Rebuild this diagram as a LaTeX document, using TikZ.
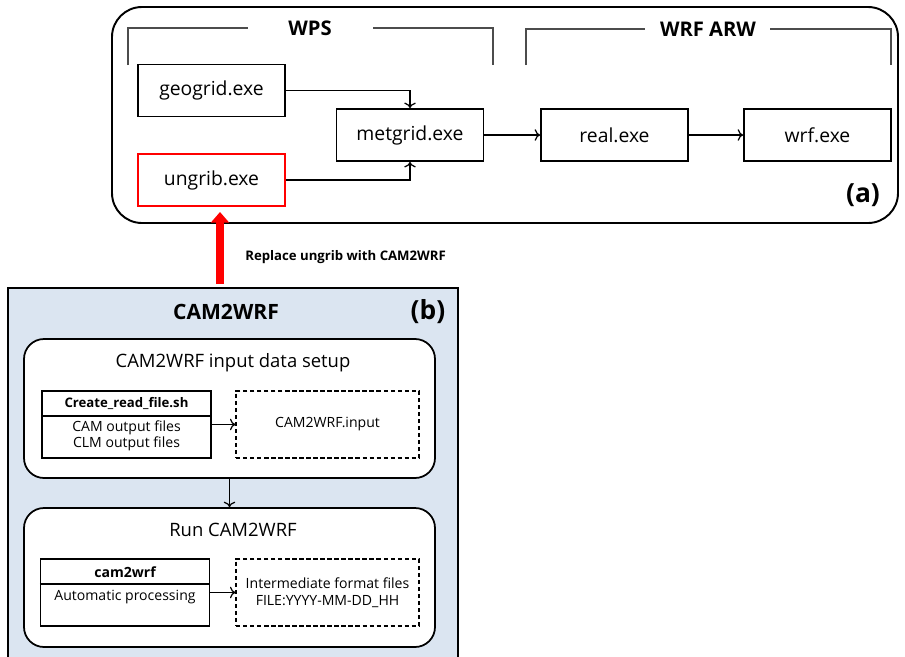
\documentclass[tikz,border=0pt]{standalone}
\usepackage{fontspec}
\setmainfont{Open Sans}
\usetikzlibrary{arrows.meta}
\definecolor{camblue}{RGB}{219,229,241}
\def\pxu{0.02cm}
\tikzset{
  exebox/.style={draw, line width=1pt, minimum width=147*\pxu, minimum height=52*\pxu, font=\fontsize{11}{13}\selectfont},
  stagebox/.style={draw, fill=white, line width=1pt, rounded corners=0.4cm, minimum width=411*\pxu, minimum height=139*\pxu},
  procbox/.style={draw, line width=0.6pt, fill=white, minimum width=169*\pxu, minimum height=67*\pxu},
  inbox/.style={draw, line width=0.6pt, dash pattern=on 2.5pt off 1.5pt, minimum width=183*\pxu, minimum height=67*\pxu, font=\fontsize{8}{10}\selectfont},
  bracket/.style={draw=black!70, line width=0.6pt},
  flow/.style={->, line width=0.7pt},
  small text/.style={font=\fontsize{8}{9}\selectfont}
}
\begin{document}
\begin{tikzpicture}[x=0.02cm,y=-0.02cm]
    \clip (0,0) rectangle (905,656);

    % Teil (a): WPS und WRF ARW
    \draw[line width=1.1pt, rounded corners=0.6cm] (112,7) rectangle (898,223);
    \node[font=\bfseries\fontsize{11.5}{14}\selectfont] (wps) at (310,28) {WPS};
    \draw[bracket] (128,65) -- (128,28) -- (248,28);
    \draw[bracket] (373,28) -- (493,28) -- (493,65);
    \node[font=\bfseries\fontsize{11.5}{14}\selectfont] (wrfarw) at (708,29) {WRF ARW};
    \draw[bracket] (526,65) -- (526,29) -- (645,29);
    \draw[bracket] (770,29) -- (891,29) -- (891,65);

    \node[exebox] (geogrid) at (211.5,90.5) {geogrid.exe};
    \node[exebox, draw=red] (ungrib) at (211.5,180) {ungrib.exe};
    \node[exebox] (metgrid) at (410,135) {metgrid.exe};
    \node[exebox] (real) at (614.5,135) {real.exe};
    \node[exebox] (wrf) at (817.5,135) {wrf.exe};

    \draw[flow] (geogrid) -| (metgrid);
    \draw[flow] (ungrib) -| (metgrid);
    \draw[flow] (metgrid) -- (real);
    \draw[flow] (real) -- (wrf);
    \node[font=\bfseries\fontsize{15}{17}\selectfont] (alabel) at (863,195) {(a)};

    % roter Pfeil
    \coordinate (redtail) at (220,284);
    \coordinate (redtip) at (220,212);
    \draw[red, line width=5pt, -{Triangle[length=6pt,width=10pt]}] (redtail) -- (redtip);
    \node[anchor=west, inner sep=0pt, font=\bfseries\fontsize{7.5}{9}\selectfont] (note) at (245,257) {Replace ungrib with CAM2WRF};

    % Teil (b): CAM2WRF
    \draw[fill=camblue, line width=1.1pt] (8,288) rectangle (458,670);
    \node[font=\bfseries\fontsize{12}{14}\selectfont] (camtitle) at (226,312) {CAM2WRF};
    \node[font=\bfseries\fontsize{15}{17}\selectfont] (blabel) at (428,312) {(b)};

    \node[stagebox] (setup) at (229.5,408.5) {};
    \node[stagebox] (run) at (229.5,577.5) {};
    \draw[flow] (setup) -- (run);
    \node[font=\fontsize{10.5}{13}\selectfont] (setuptitle) at (233,363) {CAM2WRF input data setup};
    \node[font=\fontsize{10.5}{13}\selectfont] (runtitle) at (233,530) {Run CAM2WRF};

    \node[procbox] (create) at (126.5,424.5) {};
    \draw[line width=0.6pt] (create.west |- 0,416) -- (create.east |- 0,416);
    \node[font=\bfseries\fontsize{7.5}{9}\selectfont] (createhead) at (126.5,403) {Create\_read\_file.sh};
    \node[small text, align=center] (createbody) at (126.5,436) {CAM output files\\CLM output files};
    \node[inbox] (input) at (327.5,424.5) {CAM2WRF.input};
    \draw[flow] (create) -- (input);

    \node[procbox] (cam2wrf) at (125,592.5) {};
    \draw[line width=0.6pt] (cam2wrf.west |- 0,584) -- (cam2wrf.east |- 0,584);
    \node[font=\bfseries\fontsize{8}{9}\selectfont] (camhead) at (125,572) {cam2wrf};
    \node[small text] (cambody) at (125,597) {Automatic processing};
    \node[inbox, align=center] (interm) at (327.5,592.5) {Intermediate format files\\FILE:YYYY-MM-DD\_HH};
    \draw[flow] (cam2wrf) -- (interm);
\end{tikzpicture}
\end{document}
